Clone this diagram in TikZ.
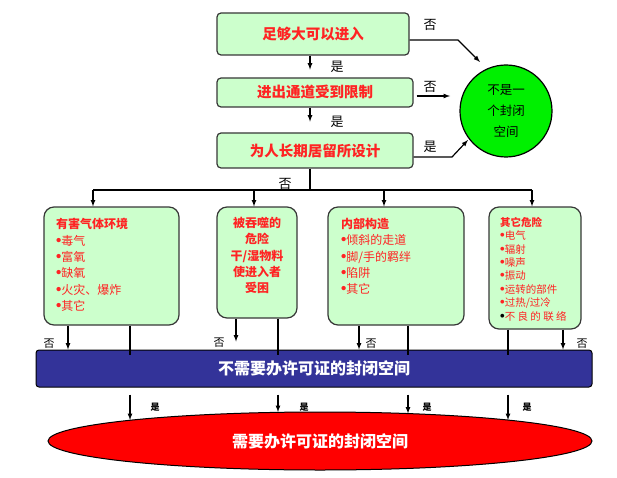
\documentclass[tikz,border=0pt]{standalone}
\usepackage{fontspec}
\setmainfont{Noto Sans CJK SC}
\newfontfamily\bulfont{Liberation Sans}
\usepackage{xcolor}
\usetikzlibrary{shapes.geometric,calc}
\definecolor{boxgreen}{RGB}{204,255,204}
\definecolor{txtred}{RGB}{255,35,35}
\definecolor{barblue}{RGB}{51,51,153}
\definecolor{edgegray}{RGB}{55,55,55}
\definecolor{ballgreen}{RGB}{0,240,0}
\newcommand{\bul}{{\bulfont\bfseries\fontsize{1.25em}{1em}\selectfont •}}

\begin{document}
\begin{tikzpicture}[x=1pt,y=-1pt,
	arr/.style={-latex,line width=1.2pt},
	qbox/.style={draw=edgegray,line width=1.2pt,fill=boxgreen,rounded corners=4pt,inner sep=0pt,text=txtred,font=\fontsize{14.5}{16}\selectfont\bfseries},
	hbox/.style={draw=edgegray,line width=1.2pt,fill=boxgreen,rounded corners=10pt,inner sep=0pt},
	items/.style={inner sep=0pt,align=left,text=txtred,font=\fontsize{12}{16.4}\selectfont},
	lbl/.style={inner sep=0pt,font=\fontsize{13}{13}\selectfont},
	lblsmall/.style={inner sep=0pt,font=\fontsize{11}{11}\selectfont},
	lbltiny/.style={inner sep=0pt,font=\fontsize{9}{9}\selectfont\bfseries}]
	\useasboundingbox (0,0) rectangle (617,478);
	% questions
	\node[qbox,minimum width=192pt,minimum height=42pt] (big) at (313,34) {足够大可以进入};
	\node[qbox,minimum width=196pt,minimum height=29pt] (exit) at (315,92.5) {进出通道受到限制};
	\node[qbox,minimum width=196pt,minimum height=35pt] (live) at (315,150.5) {为人长期居留所设计};
	\node[circle,draw=black,line width=1.2pt,fill=ballgreen,minimum size=92pt,inner sep=0pt,align=center,font=\fontsize{12.5}{21}\selectfont] (notcs) at (506,111) {不是一\\个封闭\\空间};
	% hazards
	\node[hbox,minimum width=135pt,minimum height=118pt] (gas) at (111.5,266) {};
	\node[items,anchor=west] (gastxt) at (56,265) {\textbf{有害气体环境}\\\bul 毒气\\\bul 富氧\\\bul 缺氧\\\bul 火灾、爆炸\\\bul 其它};
	\node[hbox,minimum width=80pt,minimum height=111pt] (eng) at (257,262.5) {};
	\node[items,align=center,font=\fontsize{12}{16.25}\selectfont\bfseries] (engtxt) at (257,255.5) {被吞噬的\\危险\\干/湿物料\\使进入者\\受困};
	\node[hbox,minimum width=136pt,minimum height=118pt] (conf) at (396,266) {};
	\node[items,anchor=west,font=\fontsize{12}{16.25}\selectfont] (conftxt) at (341,256.5) {\textbf{内部构造}\\\bul 倾斜的走道\\\bul 脚/手的羁绊\\\bul 陷阱\\\bul 其它};
	\node[hbox,minimum width=92pt,minimum height=122pt] (other) at (535,268) {};
	\node[items,anchor=west,font=\fontsize{10.5}{13.4}\selectfont] (othertxt) at (500,269) {\textbf{其它危险}\\\bul 电气\\\bul 辐射\\\bul 噪声\\\bul 振动\\\bul 运转的部件\\\bul 过热/过冷\\\textcolor{black}{\bul}不 良 的 联 络};
	% results
	\node[draw=black,line width=1pt,fill=barblue,rounded corners=3pt,minimum width=556pt,minimum height=37pt,inner sep=0pt,text=white,font=\fontsize{16}{16}\selectfont\bfseries] (bar) at (314,368.5) {不需要办许可证的封闭空间};
	\node[ellipse,draw=black,line width=1pt,fill=red,minimum width=544pt,minimum height=58pt,inner sep=0pt,text=white,font=\fontsize{16}{16}\selectfont\bfseries] (req) at (320,441) {需要办许可证的封闭空间};
	% top connectors
	\coordinate (mid) at (310,0);
	\draw[arr] (big.south -| mid) -- ++(0,14);
	\draw[arr] (exit.south -| mid) -- ++(0,14);
	\coordinate (k1) at (458,40);
	\coordinate (e1) at (480,62);
	\draw[arr] (big.east |- k1) -- (k1) -- (e1);
	\coordinate (e2) at (450,96);
	\draw[arr] ($(exit.east |- e2)+(3,0)$) -- (e2);
	\coordinate (k3) at (452,157);
	\coordinate (e3) at (468,140);
	\draw[arr] (live.east |- k3) -- (k3) -- (e3);
	\node[lbl] (no1) at (430,25) {否};
	\node[lbl] (no2) at (430,87) {否};
	\node[lbl] (yes3) at (430,147) {是};
	\node[lbl] (yes1) at (337,67) {是};
	\node[lbl] (yes2) at (337,122) {是};
	% fork
	\coordinate (fork) at (310,190);
	\coordinate (dA) at (93,190);
	\coordinate (dB) at (254,190);
	\coordinate (dC) at (384,190);
	\coordinate (dD) at (532,190);
	\draw[line width=1.2pt] (live.south -| fork) -- (fork);
	\draw[line width=1.2pt] (dA) -- (dD);
	\draw[arr] (dA) -- (dA |- gas.north);
	\draw[arr] (dB) -- (dB |- eng.north);
	\draw[arr] (dC) -- (dC |- conf.north);
	\draw[arr] (dD) -- (dD |- other.north);
	\node[lbl] (no3) at (285,184) {否};
	% no -> bar
	\coordinate (nA) at (68,0);
	\coordinate (nB) at (236,0);
	\coordinate (nC) at (359,0);
	\coordinate (nD) at (563,0);
	\draw[arr] (gas.south -| nA) -- (nA |- bar.north);
	\draw[arr] (eng.south -| nB) -- ($(nB |- bar.north)+(0,-8)$);
	\draw[arr] (conf.south -| nC) -- (nC |- bar.north);
	\draw[arr] (other.south -| nD) -- (nD |- bar.north);
	\node[lblsmall] (noA) at (49,344) {否};
	\node[lblsmall] (noB) at (219,343) {否};
	\node[lblsmall] (noC) at (371,344) {否};
	\node[lblsmall] (noD) at (582,344) {否};
	% yes -> ellipse
	\coordinate (yA) at (130,0);
	\coordinate (yB) at (278,0);
	\coordinate (yC) at (408,0);
	\coordinate (yD) at (508,0);
	\draw[line width=1.2pt] (gas.south -| yA) -- ($(yA |- bar.north)+(0,5)$);
	\draw[line width=1.2pt] (eng.south -| yB) -- ($(yB |- bar.north)+(0,5)$);
	\draw[line width=1.2pt] (conf.south -| yC) -- ($(yC |- bar.north)+(0,5)$);
	\draw[line width=1.2pt] (other.south -| yD) -- ($(yD |- bar.north)+(0,5)$);
	\coordinate (tA) at (130,420);
	\coordinate (tB) at (278,412);
	\coordinate (tC) at (408,413.5);
	\coordinate (tD) at (508,420);
	\draw[arr] ($(yA |- bar.south)+(0,7)$) -- (tA);
	\draw[arr] ($(yB |- bar.south)+(0,7)$) -- (tB);
	\draw[arr] ($(yC |- bar.south)+(0,7)$) -- (tC);
	\draw[arr] ($(yD |- bar.south)+(0,7)$) -- (tD);
	\node[lbltiny] (yesA) at (155,407) {是};
	\node[lbltiny] (yesB) at (304,407) {是};
	\node[lbltiny] (yesC) at (427,407) {是};
	\node[lbltiny] (yesD) at (527,407) {是};
\end{tikzpicture}
\end{document}
